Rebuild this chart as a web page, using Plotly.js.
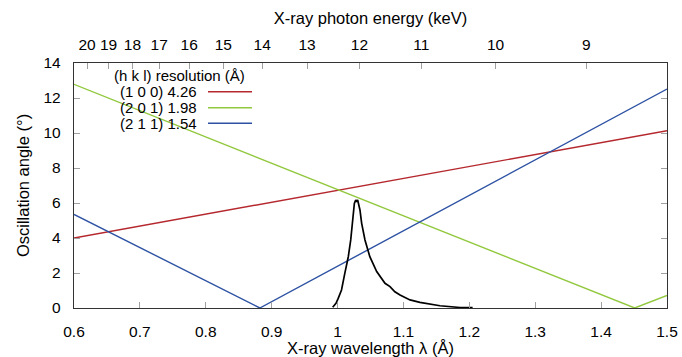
<!DOCTYPE html>
<html>
<head>
<meta charset="utf-8">
<script src="https://cdn.plot.ly/plotly-3.0.1.min.js"></script>
<style>html,body{margin:0;padding:0;background:#fff;}</style>
</head>
<body>
<div id="chart" style="width:682px;height:357px;"></div>
<script>
// ---- data ----
const seriesNames = ["(1 0 0) 4.26", "(2 0 1) 1.98", "(2 1 1) 1.54"];
const legendTitle = "(h k l) resolution (Å)";

const lambda100 = [0.6, 1.5];
const angle100  = [4.0, 10.13];

const lambda201 = [0.6, 1.451, 1.5];
const angle201  = [12.78, 0, 0.72];

const lambda211 = [0.6, 0.882, 1.5];
const angle211  = [5.35, 0, 12.51];

const specLambda = [0.9926, 0.9976, 1.001, 1.006, 1.011, 1.0163, 1.020, 1.0224, 1.024, 1.0255, 1.0275, 1.029, 1.0305, 1.032, 1.034, 1.0366, 1.0416, 1.049, 1.0594, 1.072, 1.0796, 1.087, 1.0948, 1.110, 1.125, 1.1555, 1.186, 1.205];
const specValue  = [0.04, 0.27, 0.55, 1.03, 1.98, 2.93, 3.89, 4.84, 5.6, 5.98, 6.17, 6.07, 6.17, 5.89, 5.6, 4.84, 3.89, 2.93, 2.08, 1.41, 1.22, 0.93, 0.74, 0.46, 0.32, 0.13, 0.03, 0.02];

const energyTicks = [20, 19, 18, 17, 16, 15, 14, 13, 12, 11, 10, 9];
const yTicks = [0, 2, 4, 6, 8, 10, 12, 14];
const xTicks = [0.6, 0.7, 0.8, 0.9, 1.0, 1.1, 1.2, 1.3, 1.4, 1.5];
const xTickText = ["0.6", "0.7", "0.8", "0.9", "1", "1.1", "1.2", "1.3", "1.4", "1.5"];

// ---- styles ----
const colors = ["#b5282e", "#92c83e", "#2d52a3"];
const FONT = "Liberation Sans, Arial, sans-serif";
const HC = 12.398; // keV·Å, photon energy <-> wavelength

const W = 682, H = 357;
const M = {l: 74, r: 15, t: 63, b: 49};
const pw = W - M.l - M.r, ph = H - M.t - M.b;
const px2x = p => (p - M.l) / pw;
const py2y = p => (H - M.b - p) / ph;

const traces = [
  {x: lambda100, y: angle100, mode: "lines", line: {color: colors[0], width: 1.4}, name: seriesNames[0]},
  {x: lambda201, y: angle201, mode: "lines", line: {color: colors[1], width: 1.4}, name: seriesNames[1]},
  {x: lambda211, y: angle211, mode: "lines", line: {color: colors[2], width: 1.4}, name: seriesNames[2]},
  {x: specLambda, y: specValue, mode: "lines", line: {color: "#000", width: 1.7}, name: "spectrum"},
  {x: [0.6], y: [0], xaxis: "x2", mode: "markers", marker: {opacity: 0}, hoverinfo: "skip", name: ""}
];

// manual gnuplot-style legend (text then sample line)
const LF = 15;
const annotations = [{
  xref: "paper", yref: "paper", x: px2x(179.5), y: py2y(75.5), text: legendTitle,
  showarrow: false, xanchor: "center", yanchor: "middle", font: {family: FONT, size: LF, color: "#000"}
}];
const shapes = [];
const entryY = [91.7, 107.7, 123.3];
seriesNames.forEach((n, i) => {
  annotations.push({xref: "paper", yref: "paper", x: px2x(199), y: py2y(entryY[i]), text: n,
    showarrow: false, xanchor: "right", yanchor: "middle", font: {family: FONT, size: LF, color: "#000"}});
  shapes.push({type: "line", xref: "paper", yref: "paper", x0: px2x(208), x1: px2x(252),
    y0: py2y(entryY[i]), y1: py2y(entryY[i]), line: {color: colors[i], width: 1.4}});
});

const TF = 15.5, TTF = 16.5;
const axisCommon = {
  ticks: "inside", ticklen: 6, tickcolor: "#a0a0a0", tickwidth: 1,
  showline: true, linecolor: "#333", linewidth: 1.2,
  showgrid: false, zeroline: false,
  tickfont: {family: FONT, size: TF, color: "#000"}
};

const layout = {
  width: W, height: H,
  margin: M,
  paper_bgcolor: "#fff", plot_bgcolor: "#fff",
  showlegend: false,
  font: {family: FONT, size: TF, color: "#000"},
  xaxis: Object.assign({}, axisCommon, {
    range: [0.6, 1.5], tickvals: xTicks, ticktext: xTickText, mirror: false,
    ticklabelstandoff: 9,
    title: {text: "X-ray wavelength λ (Å)", font: {family: FONT, size: TTF}, standoff: 3}
  }),
  xaxis2: Object.assign({}, axisCommon, {
    range: [0.6, 1.5], overlaying: "x", side: "top", anchor: "y",
    tickvals: energyTicks.map(e => HC / e), ticktext: energyTicks.map(String),
    ticklabelstandoff: 6,
    title: {text: "X-ray photon energy (keV)", font: {family: FONT, size: TTF}, standoff: 6}
  }),
  yaxis: Object.assign({}, axisCommon, {
    range: [0, 14], tickvals: yTicks, mirror: "ticks",
    ticklabelstandoff: 9,
    title: {text: "Oscillation angle (°)", font: {family: FONT, size: TTF}, standoff: 9}
  }),
  annotations: annotations,
  shapes: shapes
};

Plotly.newPlot("chart", traces, layout, {displayModeBar: false, staticPlot: true});
</script>
</body>
</html>
